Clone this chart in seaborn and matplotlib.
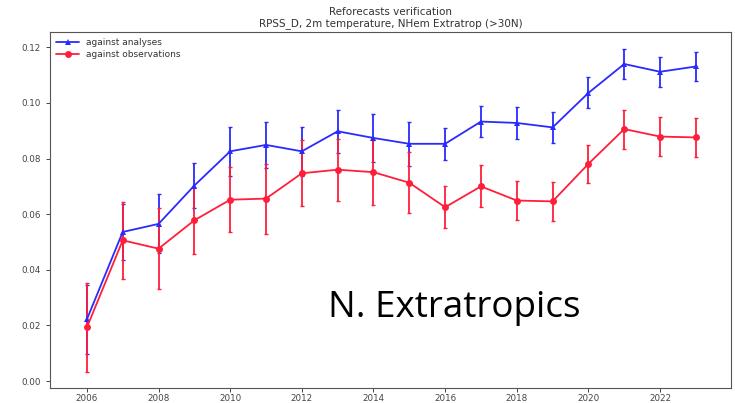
import matplotlib
matplotlib.use("Agg")
import matplotlib.pyplot as plt
import seaborn as sns
import pandas as pd

years = list(range(2006, 2024))
analyses = [0.0222, 0.0536, 0.0565, 0.0703, 0.0826, 0.0849, 0.0826, 0.0898, 0.0874,
            0.0853, 0.0853, 0.0933, 0.0928, 0.0912, 0.1036, 0.1140, 0.1112, 0.1131]
analyses_err = [0.0125, 0.0100, 0.0106, 0.0081, 0.0087, 0.0084, 0.0089, 0.0078, 0.0085,
                0.0080, 0.0058, 0.0057, 0.0058, 0.0057, 0.0056, 0.0055, 0.0054, 0.0053]
observations = [0.0193, 0.0506, 0.0476, 0.0578, 0.0652, 0.0656, 0.0747, 0.0760, 0.0751,
                0.0713, 0.0625, 0.0700, 0.0649, 0.0646, 0.0781, 0.0906, 0.0879, 0.0876]
observations_err = [0.0160, 0.0138, 0.0146, 0.0120, 0.0116, 0.0126, 0.0119, 0.0111, 0.0117,
                    0.0110, 0.0075, 0.0075, 0.0071, 0.0071, 0.0068, 0.0070, 0.0070, 0.0070]
labels = ["against analyses", "against observations"]
xticks = [2006, 2008, 2010, 2012, 2014, 2016, 2018, 2020, 2022]
yticks = [0.00, 0.02, 0.04, 0.06, 0.08, 0.10, 0.12]

sns.set_style("ticks")
plt.rcParams['font.family'] = ['DejaVu Sans']

fig = plt.figure(figsize=(7.35, 4.03), dpi=100)
ax = fig.add_axes([50/735, 15/403, 681/735, 356/403])

df = pd.DataFrame({
    "year": years * 2,
    "value": analyses + observations,
    "err": analyses_err + observations_err,
    "series": [labels[0]] * len(years) + [labels[1]] * len(years),
})

colors = {labels[0]: "#2a2aff", labels[1]: "#ff1f3a"}
markers = {labels[0]: "^", labels[1]: "o"}

for lab in labels:
    sub = df[df.series == lab]
    ax.errorbar(sub.year, sub.value, yerr=sub.err, fmt="none", ecolor=colors[lab],
                elinewidth=1.3, capsize=1.5, capthick=1.0, zorder=2)

sns.lineplot(data=df, x="year", y="value", hue="series", style="series",
             palette=colors, markers=markers, dashes=False, markersize=5,
             markeredgewidth=0, linewidth=1.3, ax=ax, zorder=3)

ax.set_xlim(2004.97, 2023.98)
ax.set_ylim(-0.0025, 0.1255)
ax.set_xticks(xticks)
ax.set_xticklabels([str(t) for t in xticks])
ax.set_yticks(yticks)
ax.set_yticklabels([f"{t:.2f}" for t in yticks])
ax.tick_params(labelsize=6.3, colors="#444444", length=3, width=0.7)
ax.tick_params(axis="x", pad=1.5)
ax.set_xlabel("")
ax.set_ylabel("")
for s in ax.spines.values():
    s.set_visible(True)
    s.set_color("#555555")
    s.set_linewidth(0.8)

ax.set_title("Reforecasts verification\nRPSS_D, 2m temperature, NHem Extratrop (>30N)",
             fontsize=7.5, color="#333333", pad=4, linespacing=1.2)

leg = ax.legend(loc="upper left", fontsize=6.5, frameon=False, handlelength=2.5,
                borderaxespad=0.3, labelspacing=0.3)
for t in leg.get_texts():
    t.set_color("#333333")

fig.text(454/735, 1 - 308/403, "N. Extratropics", fontsize=26.5, family=["Open Sans", "DejaVu Sans"],
         ha="center", va="center", color="black")

fig.savefig("out.png", dpi=100)
